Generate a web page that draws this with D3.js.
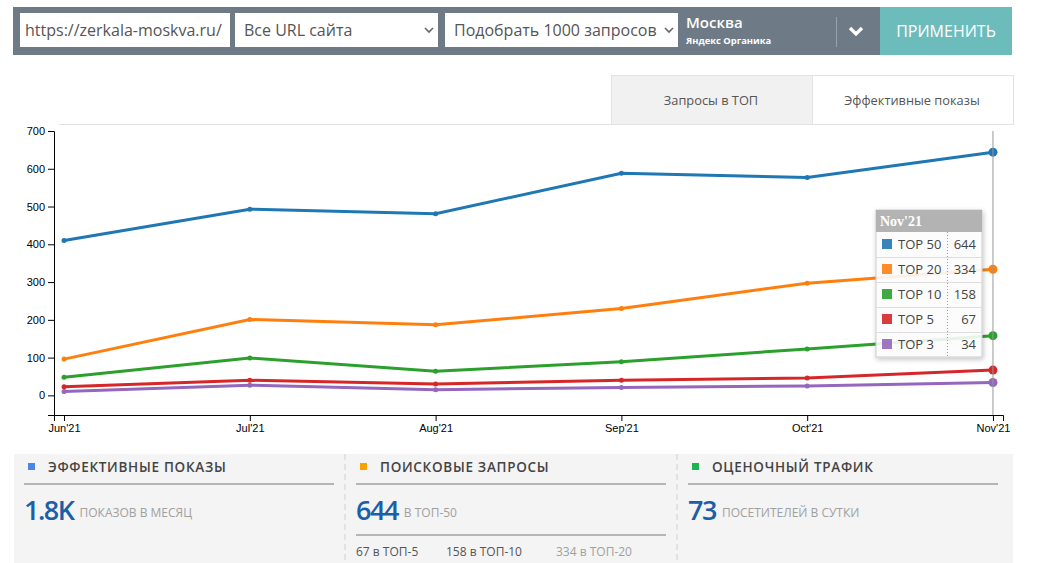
<!DOCTYPE html>
<html lang="ru">
<head>
<meta charset="utf-8">
<script src="https://d3js.org/d3.v7.min.js"></script>
<style>
    body { margin: 0; background: #fff; }
    #chart text { font-family: "Open Sans", sans-serif; }
    .axis text { font-family: "Liberation Sans Narrow", "Liberation Sans", Arial, sans-serif !important; font-size: 11px; fill: #000; }
    .axis path, .axis line { stroke: #000; }
</style>
</head>
<body>
<svg id="chart" width="1053" height="563"></svg>
<script>
    // data
    const months = ["Jun'21", "Jul'21", "Aug'21", "Sep'21", "Oct'21", "Nov'21"];
    const seriesNames = ["TOP 50", "TOP 20", "TOP 10", "TOP 5", "TOP 3"];
    const top50 = [410, 493, 481, 588, 577, 644];
    const top20 = [96, 201, 187, 230, 297, 334];
    const top10 = [48, 99, 64, 89, 123, 158];
    const top5 = [23, 40, 30, 40, 46, 67];
    const top3 = [10, 27, 15, 21, 25, 34];
    const yTicks = [0, 100, 200, 300, 400, 500, 600, 700];
    const colors = ["#1f77b4", "#ff7f0e", "#2ca02c", "#d62728", "#9467bd"];

    const cardTitles = ["ЭФФЕКТИВНЫЕ ПОКАЗЫ", "ПОИСКОВЫЕ ЗАПРОСЫ", "ОЦЕНОЧНЫЙ ТРАФИК"];
    const cardValues = ["1.8K", "644", "73"];
    const cardUnits = ["ПОКАЗОВ В МЕСЯЦ", "В ТОП-50", "ПОСЕТИТЕЛЕЙ В СУТКИ"];
    const cardColors = ["#4a86e8", "#f4a300", "#1db34f"];
    const subCounts = ["67 в ТОП-5", "158 в ТОП-10", "334 в ТОП-20"];

    const series = seriesNames.map((name, i) => ({
        name: name,
        color: colors[i],
        values: [top50, top20, top10, top5, top3][i]
    }));

    const svg = d3.select("#chart");

    // ---------- top bar ----------
    const bar = svg.append("g");
    bar.append("rect").attr("x", 13).attr("y", 7).attr("width", 868).attr("height", 48).attr("fill", "#6e7a85");
    bar.append("rect").attr("x", 880).attr("y", 7).attr("width", 132).attr("height", 48).attr("fill", "#6dbcbc");

    const inputs = [
        { x: 20, w: 210, label: "https://zerkala-moskva.ru/", chevron: false },
        { x: 235, w: 203, label: "Все URL сайта", chevron: true },
        { x: 445, w: 233, label: "Подобрать 1000 запросов", chevron: true }
    ];
    inputs.forEach(d => {
        bar.append("rect").attr("x", d.x).attr("y", 13).attr("width", d.w).attr("height", 34).attr("fill", "#fff");
        bar.append("text").attr("x", d.x + (d.chevron ? 9 : 5)).attr("y", 36)
            .attr("font-size", 16).attr("fill", "#555").text(d.label);
        if (d.chevron) {
            const cx = d.x + d.w - 9;
            bar.append("path").attr("d", `M${cx - 4},28 L${cx},32 L${cx + 4},28`)
                .attr("fill", "none").attr("stroke", "#666").attr("stroke-width", 1.6);
        }
    });
    bar.append("text").attr("x", 686).attr("y", 28).attr("font-size", 15).attr("font-weight", 600)
        .attr("fill", "#fff").text("Москва");
    bar.append("text").attr("x", 686).attr("y", 44).attr("font-size", 9.4).attr("font-weight", 700)
        .attr("fill", "#fff").text("Яндекс Органика");
    bar.append("line").attr("x1", 836.5).attr("x2", 836.5).attr("y1", 17).attr("y2", 47)
        .attr("stroke", "#9aa3ab").attr("stroke-width", 1);
    bar.append("path").attr("d", "M850,28 L856,34 L862,28").attr("fill", "none")
        .attr("stroke", "#fff").attr("stroke-width", 3.2);
    bar.append("text").attr("x", 946).attr("y", 37).attr("text-anchor", "middle")
        .attr("font-size", 16).attr("fill", "#fff").text("ПРИМЕНИТЬ");

    // ---------- tabs ----------
    const tabs = svg.append("g");
    tabs.append("line").attr("x1", 59).attr("x2", 1013).attr("y1", 124.5).attr("y2", 124.5)
        .attr("stroke", "#e3e3e3");
    tabs.append("rect").attr("x", 611.5).attr("y", 75.5).attr("width", 201).attr("height", 49)
        .attr("fill", "#f1f1f1").attr("stroke", "#e3e3e3");
    tabs.append("rect").attr("x", 812.5).attr("y", 75.5).attr("width", 201).attr("height", 49)
        .attr("fill", "#fff").attr("stroke", "#e3e3e3");
    tabs.append("text").attr("x", 711).attr("y", 105).attr("text-anchor", "middle")
        .attr("font-size", 12.8).attr("fill", "#555").text("Запросы в ТОП");
    tabs.append("text").attr("x", 912).attr("y", 105).attr("text-anchor", "middle")
        .attr("font-size", 12.8).attr("fill", "#555").text("Эффективные показы");

    // ---------- chart ----------
    const x = d3.scalePoint().domain(months).range([54, 1003]).padding(0.054);
    const y = d3.scaleLinear().domain([-52, 700]).range([415, 131]);

    svg.append("g").attr("class", "axis")
        .attr("transform", "translate(0,415)")
        .call(d3.axisBottom(x).tickSize(6).tickPadding(3));
    svg.append("g").attr("class", "axis")
        .attr("transform", "translate(54,0)")
        .call(d3.axisLeft(y).tickValues(yTicks).tickSize(6).tickPadding(3));

    const line = d3.line()
        .x((d, i) => x(months[i]))
        .y(d => y(d));

    const plot = svg.append("g");
    series.slice().reverse().forEach(s => {
        plot.append("path").datum(s.values)
            .attr("d", line).attr("fill", "none")
            .attr("stroke", s.color).attr("stroke-width", 3);
        plot.selectAll(null).data(s.values).enter().append("circle")
            .attr("cx", (d, i) => x(months[i])).attr("cy", d => y(d))
            .attr("r", (d, i) => i === months.length - 1 ? 4.5 : 2.5)
            .attr("fill", s.color);
    });

    // hover line at last month
    const last = months[months.length - 1];
    svg.append("line").attr("x1", x(last)).attr("x2", x(last)).attr("y1", 131).attr("y2", 415)
        .attr("stroke", "#999").attr("stroke-width", 1);

    // ---------- tooltip ----------
    const tip = svg.append("g").attr("transform", "translate(876,210)");
    const tipW = 106, headH = 22, rowH = 25;
    const defs = svg.append("defs");
    const f = defs.append("filter").attr("id", "shadow").attr("x", "-20%").attr("y", "-20%")
        .attr("width", "140%").attr("height", "140%");
    f.append("feDropShadow").attr("dx", 1).attr("dy", 2).attr("stdDeviation", 2.5)
        .attr("flood-color", "#000").attr("flood-opacity", 0.25);
    tip.append("rect").attr("width", tipW).attr("height", headH + rowH * series.length)
        .attr("fill", "#fff").attr("fill-opacity", 0.88).attr("stroke", "#ccc")
        .attr("filter", "url(#shadow)");
    tip.append("rect").attr("width", tipW).attr("height", headH).attr("fill", "#b3b3b3");
    tip.append("text").attr("x", 4).attr("y", 16)
        .style("font-family", "'Liberation Serif', 'DejaVu Serif', serif")
        .attr("font-size", 14).attr("font-weight", 700).attr("fill", "#fff").text(last);
    const rows = tip.selectAll("g.row").data(series).enter().append("g")
        .attr("transform", (d, i) => `translate(0,${headH + i * rowH})`);
    rows.append("line").attr("x1", 0).attr("x2", tipW).attr("y1", rowH + 0.5).attr("y2", rowH + 0.5)
        .attr("stroke", (d, i) => i === series.length - 1 ? "none" : "#ddd");
    rows.append("rect").attr("x", 6).attr("y", 7).attr("width", 10).attr("height", 10)
        .attr("fill", d => d.color).attr("opacity", 0.9);
    rows.append("text").attr("x", 22).attr("y", 17).attr("font-size", 13).attr("fill", "#444")
        .text(d => d.name);
    rows.append("text").attr("x", 100).attr("y", 17).attr("text-anchor", "end").attr("font-size", 13)
        .attr("fill", "#444").text(d => d.values[d.values.length - 1]);
    tip.append("line").attr("x1", 71.5).attr("x2", 71.5).attr("y1", headH).attr("y2", headH + rowH * series.length)
        .attr("stroke", "#999").attr("stroke-dasharray", "1,2");

    // ---------- summary cards ----------
    const cards = svg.append("g");
    cards.append("rect").attr("x", 14).attr("y", 454).attr("width", 999).attr("height", 109).attr("fill", "#f4f4f4");
    [345, 677].forEach(xx => {
        cards.append("line").attr("x1", xx).attr("x2", xx).attr("y1", 454).attr("y2", 563)
            .attr("stroke", "#e2e2e2").attr("stroke-width", 2).attr("stroke-dasharray", "6,4");
    });
    const cardX = [24, 356, 688];
    cardTitles.forEach((t, i) => {
        const cx = cardX[i];
        cards.append("rect").attr("x", cx + 4).attr("y", 463).attr("width", 7).attr("height", 7).attr("fill", cardColors[i]);
        cards.append("text").attr("x", cx + 24).attr("y", 472).attr("font-size", 13.5).attr("font-weight", 600)
            .attr("letter-spacing", 0.7).attr("fill", "#444").text(t);
        cards.append("line").attr("x1", cx).attr("x2", cx + 310).attr("y1", 484).attr("y2", 484)
            .attr("stroke", "#b5b5b5").attr("stroke-width", 2);
        const v = cards.append("text").attr("x", cx).attr("y", 520);
        v.append("tspan").attr("font-size", 27).attr("font-weight", 600).attr("fill", "#1b5fa6")
            .attr("letter-spacing", -1.5).text(cardValues[i]);
        v.append("tspan").attr("dx", 6).attr("dy", -3).attr("font-size", 12).attr("fill", "#a0a0a0").text(cardUnits[i]);
    });
    cards.append("line").attr("x1", 356).attr("x2", 666).attr("y1", 535).attr("y2", 535)
        .attr("stroke", "#b5b5b5").attr("stroke-width", 2);
    const subX = [356, 446, 556];
    subCounts.forEach((t, i) => {
        cards.append("text").attr("x", subX[i]).attr("y", 556).attr("font-size", 12)
            .attr("fill", i === 2 ? "#a0a0a0" : "#555").text(t);
    });
</script>
</body>
</html>
